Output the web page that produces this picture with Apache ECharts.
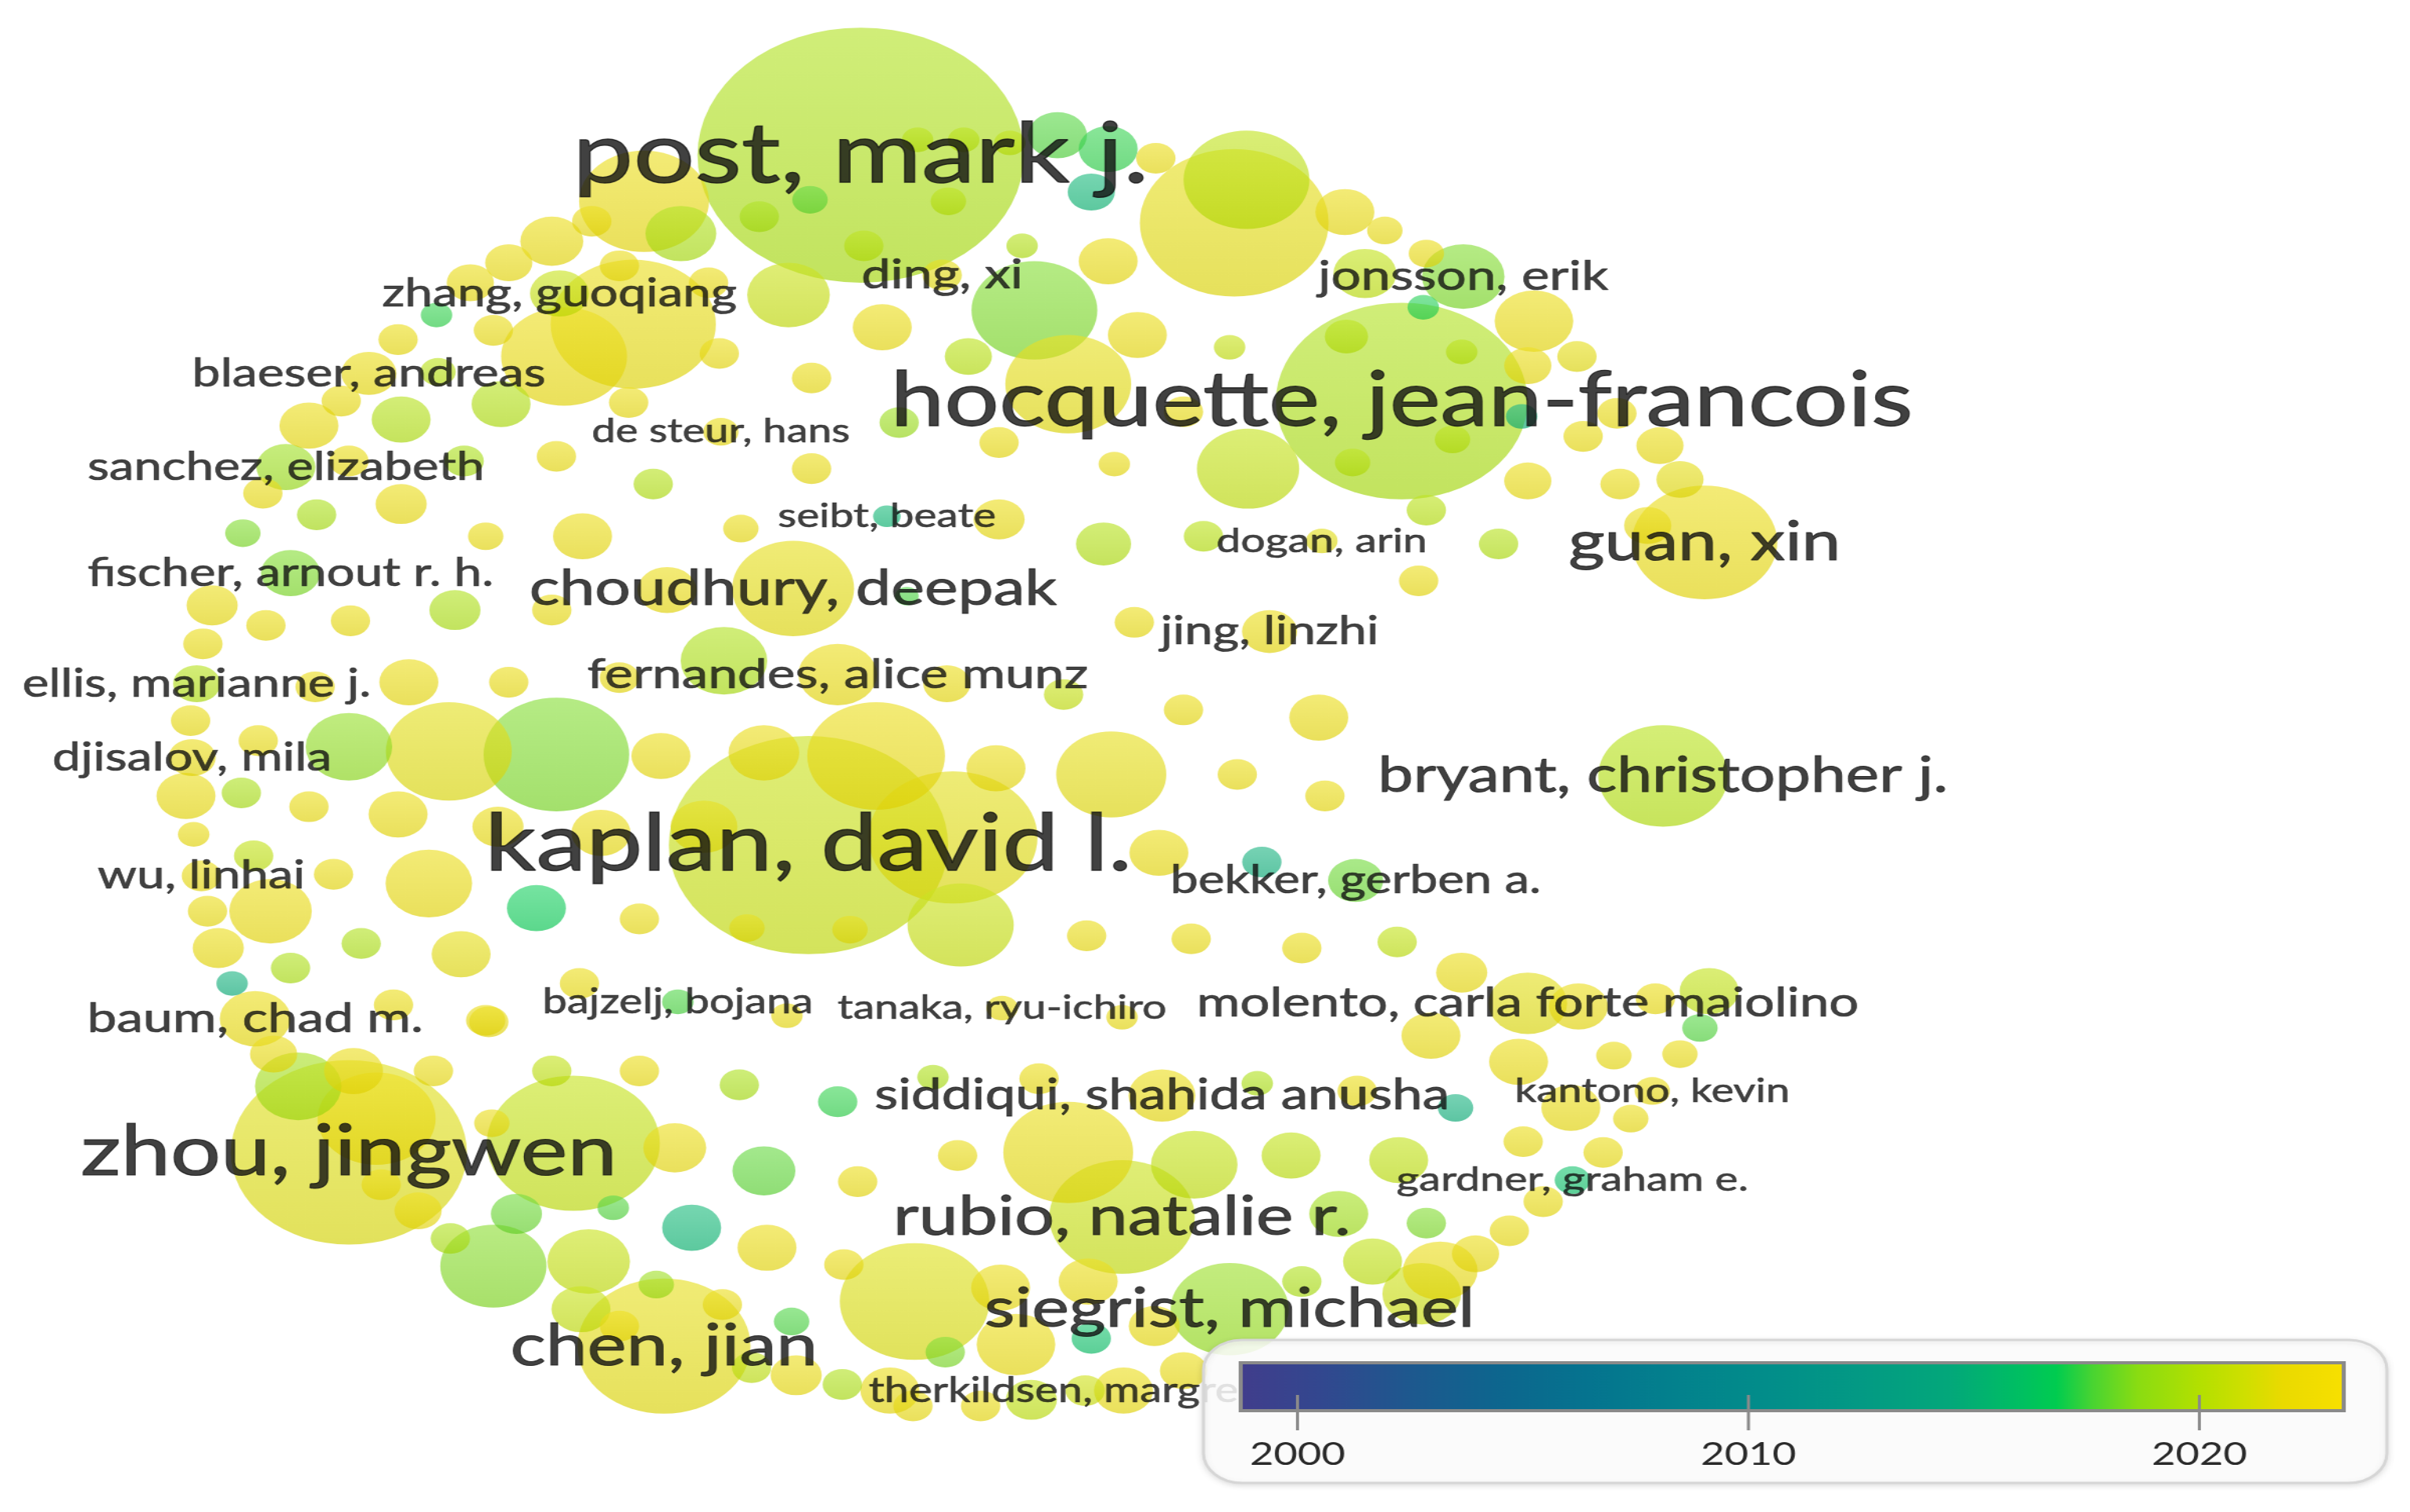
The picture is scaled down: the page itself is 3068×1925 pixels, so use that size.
<!DOCTYPE html>
<html><head><meta charset="utf-8">
<script src="https://cdn.jsdelivr.net/npm/echarts@6/dist/echarts.min.js"></script>
<style>
html,body{margin:0;padding:0;background:#fff;overflow:hidden;width:3068px;height:1925px;}
#wrap{position:absolute;left:0;top:0;width:2397px;height:1925px;transform:scaleX(1.27994);transform-origin:0 0;}
</style></head><body><div id="wrap"></div>
<script>
// ---------------- DATA (map coordinates, node weight, avg. publication year) ----------------
const labelNames = ['post, mark j.','hocquette, jean-francois','kaplan, david l.','zhou, jingwen','chen, jian','guan, xin','bryant, christopher j.','choudhury, deepak','rubio, natalie r.','siegrist, michael','molento, carla forte maiolino','siddiqui, shahida anusha','fernandes, alice munz','zhang, guoqiang','blaeser, andreas','sanchez, elizabeth','fischer, arnout r. h.','ellis, marianne j.','djisalov, mila','wu, linhai','baum, chad m.','jonsson, erik','ding, xi','de steur, hans','seibt, beate','dogan, arin','jing, linzhi','bekker, gerben a.','bajzelj, bojana','tanaka, ryu-ichiro','kantono, kevin','gardner, graham e.','therkildsen, margrethe'];
const labelX = [560,912,526,227,432,1109,1082,516,730,800,994,756,545,364,240,186,189,128,125,131,166,952,613,469,577,860,826,882,441,652,1075,1023,706];
const labelY = [101,261,550,750,876,353,505,383,792,852,653,713,439,191,243,304,373,445,493,570,663,180,179,281,336,352,411,573,652,656,710,768,905];
const labelWeight = [83,64,71,60,44,37,33,31,37,30,20,17,20,15,14,15,15,12,12,10,18,21,10,9,7,8,14,14,8,8,9,9,10];
const labelYear = [2019.6,2019.6,2020.6,2021.4,2021.6,2021.8,2019.9,2021.6,2020.6,2018.8,2021.5,2021.8,2021.8,2020.5,2021.8,2019,2018.3,2019.8,2021.8,2021.8,2021.8,2018.3,2021.6,2021.8,2015.3,2021.5,2021.8,2018,2017.5,2021.8,2021.8,2016,2020.8];

const nodeX = [527,597,627,657,617,562,494,688,721,710,752,803,811,875,901,928,888,998,926,876,951,945,880,990,994,1026,1052,1030,994,1054,1080,1093,1072,673,695,721,665,740,800,630,650,725,812,928,975,923,
419,443,385,359,331,403,306,461,513,574,284,321,412,367,259,468,285,326,409,222,261,201,528,585,362,528,425,227,302,171,206,158,261,316,379,482,650,718,783,738,138,173,228,296,359,132,590,434,
471,403,331,266,205,124,227,292,362,430,168,121,157,201,259,324,391,126,165,217,279,176,135,349,416,142,235,300,189,151,377,256,316,
570,620,625,723,648,754,770,858,805,862,821,707,775,847,909,951,616,692,497,486,553,458,
931,1027,1077,1112,1106,988,1050,1093,947,1022,1061,991,1043,1004,928,982,960,
194,230,245,272,248,282,318,320,178,373,359,416,481,545,439,497,558,336,399,450,499,293,321,383,549,378,427,470,515,403,489,518,548,579,595,
607,676,818,883,695,623,777,840,910,871,893,937,847,925,708,651,661,751,710,615,671,638,731,770,594,512,730,770];
const nodeY = [130,91,91,93,131,160,141,88,97,125,103,145,117,138,150,165,178,209,200,219,229,286,301,271,238,232,269,284,313,315,290,312,342,202,250,170,160,218,226,232,288,302,305,332,354,378,
131,152,144,157,171,173,184,184,192,213,205,215,211,232,221,230,242,263,262,261,273,277,246,275,297,305,315,300,300,321,335,347,328,349,349,344,338,354,349,405,394,407,404,397,397,419,388,384,
430,441,444,444,447,469,486,489,491,492,482,518,516,525,530,538,542,543,557,569,575,593,593,591,598,617,614,621,630,640,640,654,664,
492,545,602,504,500,555,462,467,504,518,561,609,611,617,613,633,445,452,490,604,605,538,
674,655,650,645,669,691,687,686,721,721,728,743,750,782,796,801,816,
707,697,728,788,771,697,665,731,686,744,697,697,706,717,747,762,769,790,786,799,812,806,824,821,823,852,836,849,860,863,890,895,901,905,847,
701,702,705,710,750,752,758,752,755,790,821,827,834,842,834,838,875,863,871,880,911,915,905,892,915,661,662,268];
const nodeWeight = [9,8,8,8,9,10,10,15,15,12,10,48,32,15,9,9,16,20,8,11,8,9,9,8,12,10,10,10,12,10,12,12,12,32,32,15,8,15,8,12,10,8,26,10,10,10,
33,18,10,16,12,10,12,10,21,15,8,10,42,32,10,10,9,15,10,10,15,15,10,10,10,10,10,10,10,10,10,9,13,9,15,9,13,14,10,10,13,10,10,13,10,10,6,15,
22,10,10,15,10,10,22,32,37,15,10,15,10,10,15,13,15,8,10,10,22,21,10,15,10,13,10,15,10,8,10,10,10,
35,43,27,28,15,15,10,15,10,10,10,10,10,10,10,13,12,10,18,9,9,17,
15,15,10,15,9,15,9,9,9,15,9,10,10,10,10,10,12,
22,15,30,12,10,10,10,9,12,44,10,10,10,10,16,16,10,13,8,15,15,10,27,21,10,15,9,10,9,10,10,13,10,15,38,
8,10,8,10,33,10,22,15,15,15,15,19,10,20,15,15,20,13,10,10,13,10,15,12,10,8,8,10];
const nodeYear = [2017.8,2020,2020,2020.2,2020,2020,2019.5,2017.6,2017.2,2015.2,2021.8,2021.6,2020.2,2021.8,2021.8,2021.8,2020.3,2021.8,2017,2020,2020,2020,2020,2014.8,2021.8,2021.6,2021.8,2021.8,2021.8,2021.8,2021.8,2021.6,2021.8,2018.3,2021.6,2021.8,2019.8,2021.8,2020.5,2020,2021.8,2021.8,2020.4,2020,2019.8,2021.8,
2021.8,2019.6,2021.8,2021.8,2021.8,2021.8,2021.8,2021.8,2020.6,2021.8,2017.2,2021.8,2021.7,2021.9,2021.8,2021.8,2020,2019.8,2021.8,2021.8,2019.8,2021.8,2021.8,2019,2021.8,2021.8,2019.8,2021.8,2019.5,2021.8,2019.5,2018.3,2021.8,2021.8,2021.8,2021.8,2021.8,2019.8,2020,2021.8,2021.8,2021.8,2021.8,2019.6,2021.8,2021.8,2017.5,2021.8,
2019.6,2021.8,2021.8,2021.8,2021.8,2021.8,2018.6,2021.5,2018.3,2021.8,2021.8,2021.8,2019.5,2021.8,2021.8,2021.8,2021.8,2021.8,2020.3,2021.8,2021.8,2021.8,2021.8,2016.8,2021.8,2021.8,2019.6,2021.6,2019.6,2014.8,2021.8,2021.8,2021.8,
2021.8,2021.5,2020.6,2021.6,2021.8,2021.8,2021.8,2021.8,2021.8,2021.8,2014.8,2021.8,2021.8,2021.8,2020.3,2021.8,2021.8,2020.5,2021.8,2021.6,2021.6,2021.6,
2021.8,2021.8,2021.8,2020.3,2017.6,2021.8,2021.8,2021.8,2014.8,2021.8,2021.8,2021.8,2021.8,2021.8,2018.3,2021.8,2021.8,
2019.3,2021.8,2022,2022,2022,2021.8,2021.8,2021.8,2021.8,2020.4,2020.3,2021.8,2019.5,2017.2,2021.8,2017.8,2021.8,2018,2017.6,2015.3,2021.8,2019.6,2018.4,2020.5,2021.8,2020.5,2019,2021.8,2017.5,2022,2020.3,2021.8,2019.6,2021.8,2021.3,
2019.6,2021.8,2019.6,2021.8,2021.7,2021.8,2020.4,2020.3,2020.3,2019.2,2020.3,2021.8,2019.6,2020.8,2021.8,2021.8,2021.8,2021.8,2016,2018.3,2020.3,2021.8,2021.8,2021.8,2021.8,2021.8,2021.8,2021.8];

const yearTicks = [2000, 2010, 2020];
const yearMin = 1998.74, yearMax = 2023.2;

// ---------------- STYLE ----------------
const labelSpan = [375,665,421,349,200,177,371,343,298,319,431,374,326,231,230,258,264,227,182,135,219,189,105,168,142,137,142,241,176,214,179,229,282];
const COLOR_STOPS = [[1998.74,'#413d8c'],[2000.5,'#33478f'],[2002.5,'#1e588e'],[2004.5,'#0d668e'],[2006.5,'#05748f'],[2008.5,'#03828d'],[2010.5,'#028e8a'],[2012.5,'#039a84'],[2014.5,'#03a87a'],[2016,'#00bf62'],[2016.8,'#00cc50'],[2017.6,'#48d432'],[2018.6,'#8adc12'],[2020,'#b4e000'],[2021,'#d0df00'],[2021.8,'#eada00'],[2023.2,'#f8e000']];
const W = 2397, H = 1925, XMAX = 1568, YMAX = 984;
const SIZE = 2 * H / YMAX;
const FONT = 'Lato, "Source Sans Pro", "Noto Sans", sans-serif';

function hex2rgb(h){return [parseInt(h.slice(1,3),16),parseInt(h.slice(3,5),16),parseInt(h.slice(5,7),16)];}
function yearColor(y){
  if (y <= COLOR_STOPS[0][0]) return hex2rgb(COLOR_STOPS[0][1]);
  for (let i=1;i<COLOR_STOPS.length;i++){
    if (y <= COLOR_STOPS[i][0]){
      const a=COLOR_STOPS[i-1], b=COLOR_STOPS[i];
      const t=(y-a[0])/(b[0]-a[0]);
      const ca=hex2rgb(a[1]), cb=hex2rgb(b[1]);
      return ca.map((v,k)=>v+(cb[k]-v)*t);
    }
  }
  return hex2rgb(COLOR_STOPS[COLOR_STOPS.length-1][1]);
}
function mix(c,t,k){return c.map((v,i)=>v+(t[i]-v)*k);}
function rgba(c,a){return 'rgba('+c.map(v=>Math.round(v)).join(',')+','+a+')';}
function bubbleFill(year){
  const c = yearColor(year);
  return new echarts.graphic.LinearGradient(0,0,0,1,[
    {offset:0,color:rgba(mix(c,[255,255,255],0.16),0.8)},
    {offset:1,color:rgba(mix(c,[0,0,0],0.05),0.8)}
  ]);
}

// build bubble list (largest drawn first)
const bubbles = [];
labelNames.forEach((n,i)=>bubbles.push({name:n, value:[labelX[i],labelY[i],labelWeight[i],labelYear[i]]}));
nodeX.forEach((x,i)=>bubbles.push({name:'', value:[x,nodeY[i],nodeWeight[i],nodeYear[i]]}));
bubbles.sort((a,b)=>b.value[2]-a.value[2]);
bubbles.forEach(b=>{ b.itemStyle = {color: bubbleFill(b.value[3])}; });

// label font sizes fitted to the label spans
const ctx = document.createElement('canvas').getContext('2d');
ctx.font = '100px ' + FONT;
const xScale = W / XMAX;
const labels = labelNames.map((n,i)=>{
  const w = ctx.measureText(n).width;
  const fs = 100 * (labelSpan[i]*xScale) / w;
  return {name:n, value:[labelX[i],labelY[i]],
    label:{fontSize: Math.round(fs*10)/10, textBorderColor:'#111111', textBorderWidth: Math.round(fs*0.014*10)/10}};
});

// legend (colour bar)
const bar = {x:1234, y:1735, w:1097, h:61};
const gradStops = COLOR_STOPS.map(s=>({offset:(s[0]-yearMin)/(yearMax-yearMin), color:s[1]}));
const yearToX = y => bar.x + (y-yearMin)/(yearMax-yearMin)*bar.w;
const graphics = [
  {type:'rect', z:100, shape:{x:1197,y:1706,width:1177,height:182,r:38},
   style:{fill:'rgba(255,255,255,0.85)', stroke:'#d6d6d6', lineWidth:3, shadowBlur:6, shadowColor:'rgba(0,0,0,0.12)', shadowOffsetY:2}},
  {type:'rect', z:101, shape:{x:bar.x,y:bar.y,width:bar.w,height:bar.h},
   style:{fill:new echarts.graphic.LinearGradient(0,0,1,0,gradStops), stroke:'#8a8a8a', lineWidth:4}}
];
yearTicks.forEach(t=>{
  const tx = yearToX(t);
  graphics.push({type:'line', z:102, shape:{x1:tx,y1:1776,x2:tx,y2:1821}, style:{stroke:'#8a8a8a', lineWidth:3}});
  graphics.push({type:'text', z:102, x:tx, y:1852, style:{text:String(t), fontSize:41, fontFamily:FONT, fill:'#2a2a2a', align:'center', verticalAlign:'middle'}});
});

const chart = echarts.init(document.getElementById('wrap'), null, {renderer:'canvas', width:W, height:H});
chart.setOption({
  animation:false,
  backgroundColor:'#ffffff',
  grid:{left:0,right:0,top:0,bottom:0},
  xAxis:{type:'value',min:0,max:XMAX,show:false},
  yAxis:{type:'value',min:0,max:YMAX,inverse:true,show:false},
  series:[
    {type:'scatter', data:bubbles, symbol:'circle', symbolSize:v=>v[2]*SIZE, silent:true, clip:false, z:2},
    {type:'scatter', data:labels, symbol:'circle', symbolSize:1, silent:true, clip:false, z:3,
     itemStyle:{color:'rgba(0,0,0,0)'},
     label:{show:true, position:'inside', formatter:'{b}', fontFamily:FONT, color:'#111111', align:'center', verticalAlign:'middle'}}
  ],
  graphic: graphics
});
</script></body></html>
